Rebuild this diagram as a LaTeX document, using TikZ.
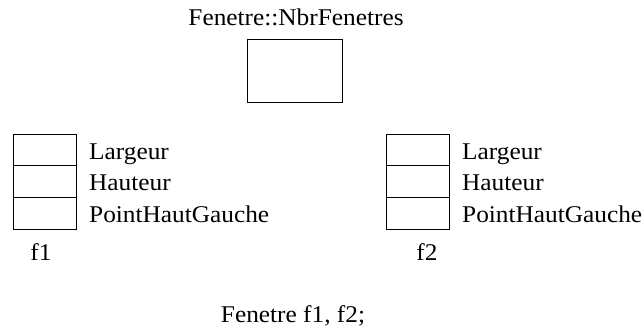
\documentclass[tikz,border=0pt]{standalone}
\usepackage{fontspec}
\setmainfont{Liberation Serif}
\newcommand{\wtxt}[1]{\scalebox{1.055}[1]{#1}}
\begin{document}
\begin{tikzpicture}[x=1pt,y=-1pt,
  txt/.style={inner sep=0pt,font=\fontsize{24}{24}\selectfont},
  cell/.style={draw,line width=0.9pt}]
\useasboundingbox (0,0) rectangle (644,332);
\node[txt,anchor=base] (title) at (296,25) {\wtxt{Fenetre::NbrFenetres}};
\draw[cell] (247,39) rectangle (342,102);
\node (nbr) at (294.5,70.5) {};
% left object
\draw[cell] (13,134) rectangle (76,229);
\draw[cell] (13,165.7) -- (76,165.7);
\draw[cell] (13,197.3) -- (76,197.3);
\node[txt,anchor=base west] (l1) at (89,159) {\wtxt{Largeur}};
\node[txt,anchor=base west] (l2) at (89,190) {\wtxt{Hauteur}};
\node[txt,anchor=base west] (l3) at (89,222) {\wtxt{PointHautGauche}};
\node[txt,anchor=base] (f1) at (41,260) {\wtxt{f1}};
% right object
\draw[cell] (386,134) rectangle (449,229);
\draw[cell] (386,165.7) -- (449,165.7);
\draw[cell] (386,197.3) -- (449,197.3);
\node[txt,anchor=base west] (r1) at (462,159) {\wtxt{Largeur}};
\node[txt,anchor=base west] (r2) at (462,190) {\wtxt{Hauteur}};
\node[txt,anchor=base west] (r3) at (462,222) {\wtxt{PointHautGauche}};
\node[txt,anchor=base] (f2) at (427,260) {\wtxt{f2}};
\node[txt,anchor=base] (decl) at (293,322) {\wtxt{Fenetre f1, f2;}};
\end{tikzpicture}
\end{document}
